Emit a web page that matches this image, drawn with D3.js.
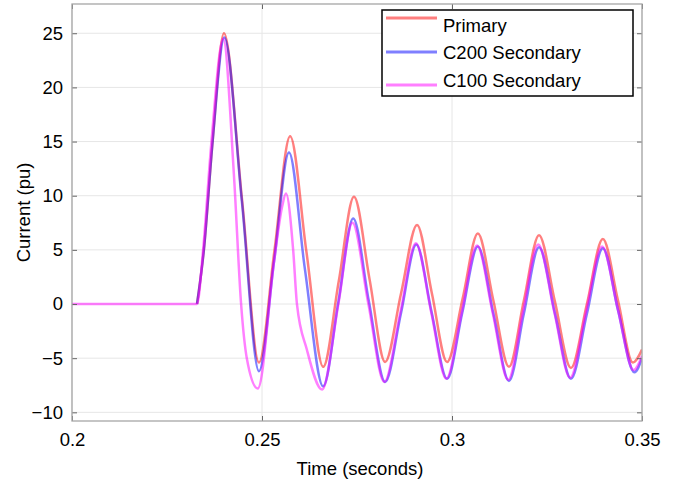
<html>
<script src="https://d3js.org/d3.v7.min.js"></script>
<style>
    body { margin: 0; background: white; }
    text { font-family: "Liberation Sans", Arial, sans-serif; fill: black; }
</style>
<body>
<svg id="chart"></svg>
<script>
    // tick values and labels
    var xTicks = [0.2, 0.25, 0.3, 0.35];
    var yTicks = [-10, -5, 0, 5, 10, 15, 20, 25];
    var seriesNames = ["Primary", "C200 Secondary", "C100 Secondary"];
    var seriesColors = ["red", "blue", "magenta"];

    // [time (s), current (pu)]
    var primary = [
        [0.2329, 0], [0.2347, 5], [0.2370, 15], [0.2400, 25],
        [0.2447, 9.8], [0.2492, -5.4], [0.2533, 5], [0.2574, 15.5],
        [0.2617, 4.8], [0.2661, -5.8], [0.2702, 2.1], [0.2742, 9.9],
        [0.2783, 2.3], [0.2824, -5.35], [0.2866, 1], [0.2908, 7.3],
        [0.2947, 1], [0.2987, -5.35], [0.3028, 0.5], [0.3068, 6.5],
        [0.3109, 0.3], [0.3150, -5.8], [0.3189, 0.3], [0.3229, 6.35],
        [0.3271, 0.2], [0.3313, -5.9], [0.3355, 0], [0.3397, 6.0],
        [0.3437, 0.3], [0.3476, -5.4], [0.3500, -4.2]
    ];
    var c200 = [
        [0.2329, 0], [0.2347, 5], [0.2370, 15], [0.2401, 24.6],
        [0.2447, 9.5], [0.2492, -6.2], [0.2532, 4], [0.2571, 14.0],
        [0.2613, 3.2], [0.2661, -7.6], [0.2701, 0.2], [0.2740, 7.9],
        [0.2781, 0.3], [0.2824, -7.2], [0.2866, -0.8], [0.2906, 5.5],
        [0.2946, -0.7], [0.2987, -6.9], [0.3027, -0.8], [0.3068, 5.3],
        [0.3109, -0.9], [0.3150, -7.1], [0.3189, -0.9], [0.3229, 5.25],
        [0.3271, -0.9], [0.3313, -6.9], [0.3355, -0.9], [0.3397, 5.15],
        [0.3437, -0.6], [0.3480, -6.3], [0.3500, -5.0]
    ];
    var c100 = [
        [0.2000, 0], [0.2329, 0], [0.2345, 5], [0.2367, 15], [0.2398, 24.5],
        [0.2426, 12], [0.2445, 0], [0.2460, -5], [0.2489, -7.8],
        [0.2532, 4], [0.2553, 9], [0.2563, 10.2], [0.2582, 5], [0.2592, 0],
        [0.2618, -4.2], [0.2658, -7.9], [0.2701, 0], [0.2738, 7.5],
        [0.2780, 0], [0.2822, -7.2], [0.2864, -0.8], [0.2905, 5.6],
        [0.2945, -0.7], [0.2985, -6.9], [0.3026, -0.7], [0.3066, 5.4],
        [0.3107, -0.8], [0.3148, -7.0], [0.3187, -0.7], [0.3227, 5.5],
        [0.3269, -0.7], [0.3311, -6.8], [0.3353, -0.7], [0.3395, 5.3],
        [0.3436, -0.4], [0.3478, -6.1], [0.3500, -4.8]
    ];
    var allSeries = [primary, c200, c100];

    var width = 687, height = 485;
    var plotLeft = 72, plotRight = 642, plotTop = 4, plotBottom = 421;
    var fontSize = "18.5px";

    var svg = d3.select("#chart")
        .attr("width", width)
        .attr("height", height);

    var x = d3.scaleLinear().domain([0.2, 0.35]).range([plotLeft, plotRight]);
    var y = d3.scaleLinear().domain([-10.8, 27.7]).range([plotBottom, plotTop]);

    // grid
    svg.append("g").selectAll("line")
        .data(xTicks)
        .enter().append("line")
        .attr("x1", d => x(d)).attr("x2", d => x(d))
        .attr("y1", plotTop).attr("y2", plotBottom)
        .attr("stroke", "#e6e6e6").attr("stroke-width", 1);
    svg.append("g").selectAll("line")
        .data(yTicks)
        .enter().append("line")
        .attr("x1", plotLeft).attr("x2", plotRight)
        .attr("y1", d => y(d)).attr("y2", d => y(d))
        .attr("stroke", "#e6e6e6").attr("stroke-width", 1);

    svg.append("clipPath").attr("id", "plotclip")
        .append("rect")
        .attr("x", plotLeft).attr("y", plotTop)
        .attr("width", plotRight - plotLeft).attr("height", plotBottom - plotTop);

    var line = d3.line()
        .x(d => x(d[0]))
        .y(d => y(d[1]))
        .curve(d3.curveMonotoneX);

    svg.append("g")
        .attr("clip-path", "url(#plotclip)")
        .selectAll("path")
        .data(allSeries)
        .enter().append("path")
        .attr("d", line)
        .attr("fill", "none")
        .attr("stroke", (d, i) => seriesColors[i])
        .attr("stroke-opacity", 0.5)
        .attr("stroke-width", 2.5);

    // axes (ticks inward, on all four sides)
    var fmtY = d => d < 0 ? "\u2212" + Math.abs(d) : d;
    svg.append("g")
        .attr("transform", "translate(" + plotLeft + ",0)")
        .call(d3.axisLeft(y).tickValues(yTicks).tickSizeInner(-5).tickSizeOuter(0).tickPadding(9).tickFormat(fmtY))
        .call(g => g.selectAll("text").style("font-size", fontSize).attr("font-family", "Liberation Sans, Arial, sans-serif"));
    svg.append("g")
        .attr("transform", "translate(" + plotRight + ",0)")
        .call(d3.axisRight(y).tickValues(yTicks).tickSizeInner(-5).tickSizeOuter(0).tickFormat(""));
    svg.append("g")
        .attr("transform", "translate(0," + plotBottom + ")")
        .call(d3.axisBottom(x).tickValues(xTicks).tickSizeInner(-5).tickSizeOuter(0).tickPadding(12).tickFormat(d => d))
        .call(g => g.selectAll("text").style("font-size", fontSize).attr("font-family", "Liberation Sans, Arial, sans-serif"));
    svg.append("g")
        .attr("transform", "translate(0," + plotTop + ")")
        .call(d3.axisTop(x).tickValues(xTicks).tickSizeInner(-5).tickSizeOuter(0).tickFormat(""));
    svg.selectAll(".domain").remove();
    svg.selectAll(".tick line").attr("stroke", "#666");

    svg.append("rect")
        .attr("x", plotLeft).attr("y", plotTop)
        .attr("width", plotRight - plotLeft).attr("height", plotBottom - plotTop)
        .attr("fill", "none").attr("stroke", "#a6a6a6").attr("stroke-width", 1.3);

    // axis labels
    svg.append("text")
        .attr("x", 360).attr("y", 475)
        .attr("text-anchor", "middle")
        .style("font-size", fontSize)
        .text("Time (seconds)");
    svg.append("text")
        .attr("transform", "translate(30," + (plotTop + plotBottom) / 2 + ") rotate(-90)")
        .attr("text-anchor", "middle")
        .style("font-size", fontSize)
        .text("Current (pu)");

    // legend
    var legend = svg.append("g");
    legend.append("rect")
        .attr("x", 382).attr("y", 10)
        .attr("width", 251).attr("height", 86)
        .attr("fill", "white").attr("stroke", "black").attr("stroke-width", 1.5);
    var legendLineY = [18, 52, 85];
    var legendTextY = [32, 59, 87];
    seriesNames.forEach(function (name, i) {
        legend.append("line")
            .attr("x1", 386).attr("x2", 437)
            .attr("y1", legendLineY[i]).attr("y2", legendLineY[i])
            .attr("stroke", seriesColors[i])
            .attr("stroke-opacity", 0.5)
            .attr("stroke-width", 2.8);
        legend.append("text")
            .attr("x", 443).attr("y", legendTextY[i])
            .style("font-size", fontSize)
            .text(name);
    });
</script>
</body>
</html>
